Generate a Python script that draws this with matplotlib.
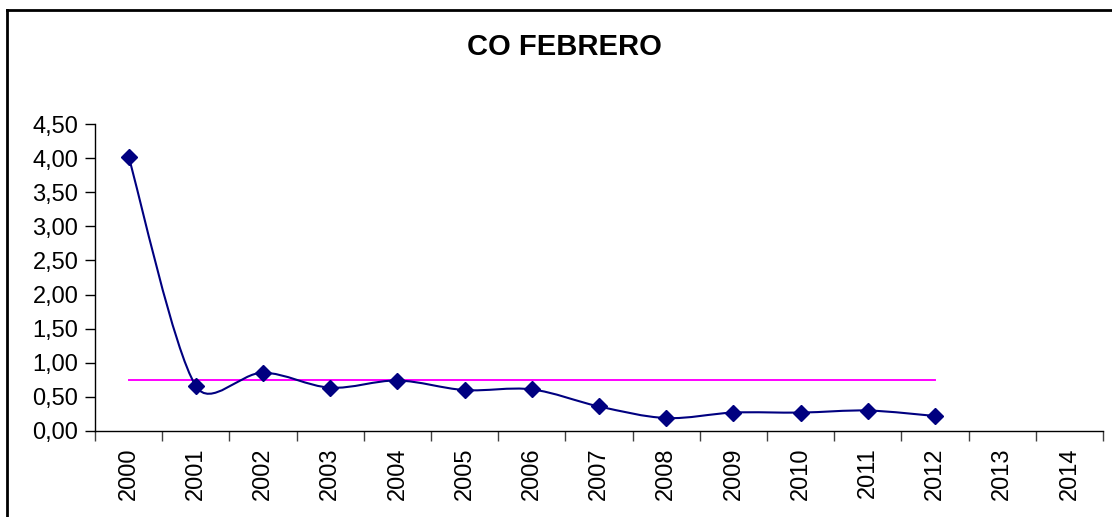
import numpy as np
import matplotlib
matplotlib.use("Agg")
import matplotlib.pyplot as plt
from matplotlib.path import Path
from matplotlib.patches import PathPatch
from matplotlib.lines import Line2D
from matplotlib.ticker import FuncFormatter

plt.rcParams["font.family"] = ["Liberation Sans", "DejaVu Sans"]

# data
years = [str(y) for y in range(2000, 2015)]
values = [4.02, 0.66, 0.855, 0.635, 0.74, 0.60, 0.61, 0.36, 0.19, 0.27, 0.27, 0.30, 0.22]
average = 0.745

NAVY = "#000080"
MAGENTA = "#FF00FF"


def smooth_path(xs, ys, f=1 / 6.0, cap=0.4):
    """Excel-like smoothed line: cubic bezier through every point."""
    pts = np.column_stack([xs, ys]).astype(float)
    n = len(pts)
    verts = [pts[0]]
    codes = [Path.MOVETO]
    for i in range(n - 1):
        p0 = pts[max(i - 1, 0)]
        p1 = pts[i]
        p2 = pts[i + 1]
        p3 = pts[min(i + 2, n - 1)]
        chord = np.hypot(*(p2 - p1))
        t1 = (p2 - p0) * f
        t2 = (p3 - p1) * f
        # keep the handles from overshooting too much
        for t in (t1, t2):
            ln = np.hypot(*t)
            if ln > cap * chord:
                t *= cap * chord / ln
        verts += [p1 + t1, p2 - t2, p2]
        codes += [Path.CURVE4] * 3
    return Path(verts, codes)


fig = plt.figure(figsize=(11.12, 5.17), dpi=100, facecolor="white")
ax = fig.add_axes([95 / 1112, 86 / 517, 1008 / 1112, 307 / 517])

x = np.arange(len(values))
ax.add_patch(PathPatch(smooth_path(x, values), facecolor="none",
                       edgecolor=NAVY, linewidth=1.5, zorder=3))
ax.plot(x, values, linestyle="none", marker="D", markersize=8.5,
        color=NAVY, zorder=4)
ax.plot([x[0], x[-1]], [average, average], color=MAGENTA, linewidth=1.4, zorder=2)

ax.set_xlim(-0.5, len(years) - 0.5)
ax.set_ylim(0, 4.5)
ax.set_yticks(np.arange(0, 4.51, 0.5))
ax.yaxis.set_major_formatter(FuncFormatter(lambda v, p: f"{v:.2f}".replace(".", ",")))
ax.set_xticks(x.tolist() + [len(values), len(values) + 1])
ax.set_xticklabels(years, rotation=90)
ax.set_xticks(np.arange(-0.5, len(years)), minor=True)
ax.tick_params(axis="x", which="major", length=0, pad=12, labelsize=17)
ax.tick_params(axis="x", which="minor", length=7, width=1, color="#404040")
ax.tick_params(axis="y", length=7, width=1, labelsize=17, pad=5)

for s in ("top", "right"):
    ax.spines[s].set_visible(False)
for s in ("left", "bottom"):
    ax.spines[s].set_color("black")
    ax.spines[s].set_linewidth(1)

fig.text(564 / 1112, 1 - 47 / 517, "CO FEBRERO", ha="center", va="center",
         fontsize=21, fontweight="bold")

# outer chart frame (only left and top edges are visible in the crop)
fig.add_artist(Line2D([7 / 1112, 7 / 1112], [0, 1 - 10 / 517],
                      transform=fig.transFigure, color="black", linewidth=2))
fig.add_artist(Line2D([7 / 1112, 1], [1 - 10 / 517, 1 - 10 / 517],
                      transform=fig.transFigure, color="black", linewidth=2))

fig.savefig("out.png", dpi=100, facecolor="white")
